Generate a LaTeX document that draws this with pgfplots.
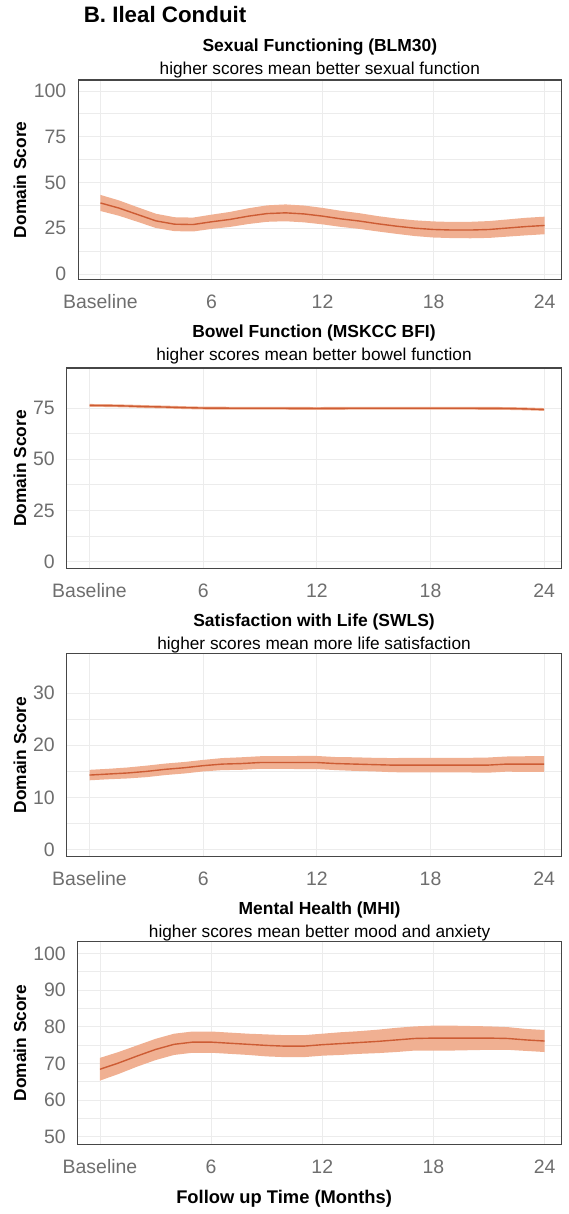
\documentclass[border=0pt]{standalone}
\usepackage{pgfplots}
\pgfplotsset{compat=1.18}
\usepackage{pgfplotstable}
\usepgfplotslibrary{fillbetween}
\usepackage{fontspec}
\setmainfont{Liberation Sans}
\definecolor{lineC}{RGB}{205,92,52}
\definecolor{bandC}{RGB}{240,176,146}
\definecolor{gridC}{RGB}{236,236,236}
\definecolor{tickC}{RGB}{110,110,110}
\definecolor{axC}{RGB}{70,70,70}

\pgfplotstableread{
x m lo hi
0 38.8 34.4 43.2
1 36.0 31.8 40.2
2 32.5 28.5 36.5
3 29.0 25.1 32.9
4 27.2 23.4 31.0
5 27.0 23.2 30.8
6 28.5 24.6 32.4
7 29.8 25.7 33.9
8 31.6 27.3 35.9
9 33.0 28.5 37.5
10 33.4 28.8 38.0
11 32.8 28.2 37.4
12 31.6 27.1 36.1
13 30.1 25.7 34.5
14 28.9 24.6 33.2
15 27.4 23.2 31.6
16 26.1 21.9 30.3
17 25.0 20.7 29.3
18 24.3 19.9 28.7
19 24.0 19.6 28.4
20 24.0 19.5 28.5
21 24.3 19.7 28.9
22 25.1 20.4 29.8
23 25.9 21.1 30.7
24 26.5 21.7 31.3
}\tA

\pgfplotstableread{
x m lo hi
0 76.3 75.6 77.0
1 76.2 75.5 76.9
2 76.0 75.3 76.7
3 75.7 75.0 76.4
4 75.5 74.8 76.2
5 75.2 74.5 75.9
6 75.0 74.3 75.7
8 74.9 74.2 75.6
10 74.9 74.2 75.6
12 74.8 74.1 75.5
14 74.9 74.2 75.6
16 74.9 74.2 75.6
18 74.9 74.2 75.6
20 74.9 74.2 75.6
22 74.8 74.1 75.5
23 74.6 73.9 75.3
24 74.3 73.6 75.0
}\tB

\pgfplotstableread{
x m lo hi
0 14.3 13.3 15.3
1 14.5 13.5 15.5
2 14.7 13.65 15.75
3 15.0 13.9 16.1
4 15.4 14.3 16.5
5 15.7 14.6 16.8
6 16.1 15.0 17.2
7 16.4 15.25 17.55
8 16.5 15.3 17.7
9 16.7 15.5 17.9
10 16.7 15.5 17.9
11 16.7 15.45 17.95
12 16.7 15.45 17.95
13 16.5 15.25 17.75
14 16.4 15.1 17.7
15 16.3 15.0 17.6
16 16.2 14.85 17.55
17 16.2 14.8 17.6
18 16.2 14.8 17.6
19 16.2 14.8 17.6
20 16.2 14.8 17.6
21 16.2 14.75 17.65
22 16.4 14.95 17.85
23 16.4 14.9 17.9
24 16.4 14.9 17.9
}\tC

\pgfplotstableread{
x m lo hi
0 68.4 65.3 71.5
1 70.1 67.1 73.1
2 72.0 69.1 74.9
3 73.8 70.9 76.7
4 75.2 72.3 78.1
5 75.8 72.9 78.7
6 75.8 72.9 78.7
7 75.5 72.6 78.4
8 75.2 72.3 78.1
9 74.9 71.9 77.9
10 74.7 71.7 77.7
11 74.7 71.7 77.7
12 75.1 72.1 78.1
13 75.4 72.3 78.5
14 75.7 72.6 78.8
15 76.0 72.8 79.2
16 76.4 73.1 79.7
17 76.8 73.5 80.1
18 76.9 73.5 80.3
19 76.9 73.5 80.3
20 76.9 73.6 80.2
21 76.9 73.7 80.1
22 76.8 73.7 79.9
23 76.4 73.4 79.4
24 76.1 73.1 79.1
}\tD

\pgfplotsset{
  panel/.style={
    scale only axis,
    anchor=north west,
    axis line style={axC, line width=0.65pt},
    xmin=-1.2, xmax=24.9,
    xtick={0,6,12,18,24},
    xticklabels={Baseline,6,12,18,24},
    minor y tick num=1,
    major tick length=0pt, minor tick length=0pt,
    grid=both,
    major grid style={gridC, line width=0.4pt},
    minor grid style={gridC, line width=0.4pt},
    tick label style={font=\fontsize{9.75}{11}\selectfont, text=tickC},
    xticklabel style={yshift=-4pt},
    yticklabel style={xshift=-2.5pt},
    /pgf/number format/assume math mode=true,
  },
}

\begin{document}
\begin{tikzpicture}
\path (0pt,0pt) rectangle (285pt,607pt);

\node[anchor=base west, font=\bfseries\fontsize{11.2}{13}\selectfont] at (38.5pt,596.7pt) {B. Ileal Conduit};

% Panel 1
\node[anchor=base, font=\bfseries\fontsize{8.75}{10}\selectfont] at (160.4pt,582.5pt) {Sexual Functioning (BLM30)};
\node[anchor=base, font=\fontsize{8.65}{10}\selectfont] at (160.4pt,571pt) {higher scores mean better sexual function};
\node[rotate=90, font=\bfseries\fontsize{8.7}{10}\selectfont] at (10pt,518pt) {Domain Score};
\begin{axis}[panel, at={(39.25pt,568pt)}, width=242.25pt, height=100pt,
  ymin=-3, ymax=106, ytick={0,25,50,75,100}]
\addplot[name path=u1, draw=none, forget plot] table[x=x,y=hi]{\tA};
\addplot[name path=l1, draw=none, forget plot] table[x=x,y=lo]{\tA};
\addplot[fill=bandC, draw=none] fill between[of=u1 and l1];
\addplot[lineC, line width=0.7pt] table[x=x,y=m]{\tA};
\end{axis}

% Panel 2
\node[anchor=base, font=\bfseries\fontsize{8.75}{10}\selectfont] at (157.5pt,439pt) {Bowel Function (MSKCC BFI)};
\node[anchor=base, font=\fontsize{8.65}{10}\selectfont] at (157.5pt,427.5pt) {higher scores mean better bowel function};
\node[rotate=90, font=\bfseries\fontsize{8.7}{10}\selectfont] at (10pt,373.25pt) {Domain Score};
\begin{axis}[panel, at={(33.5pt,423.5pt)}, width=248pt, height=100.5pt,
  ymin=-3.4, ymax=94.5, ytick={0,25,50,75}]
\addplot[name path=u2, draw=none, forget plot] table[x=x,y=hi]{\tB};
\addplot[name path=l2, draw=none, forget plot] table[x=x,y=lo]{\tB};
\addplot[fill=bandC, draw=none] fill between[of=u2 and l2];
\addplot[lineC, line width=0.7pt] table[x=x,y=m]{\tB};
\end{axis}

% Panel 3
\node[anchor=base, font=\bfseries\fontsize{8.75}{10}\selectfont] at (157.5pt,294pt) {Satisfaction with Life (SWLS)};
\node[anchor=base, font=\fontsize{8.65}{10}\selectfont] at (157.5pt,282.5pt) {higher scores mean more life satisfaction};
\node[rotate=90, font=\bfseries\fontsize{8.7}{10}\selectfont] at (10pt,229.5pt) {Domain Score};
\begin{axis}[panel, at={(33.5pt,280.5pt)}, width=248pt, height=102pt,
  ymin=-1.3, ymax=37.6, ytick={0,10,20,30}]
\addplot[name path=u3, draw=none, forget plot] table[x=x,y=hi]{\tC};
\addplot[name path=l3, draw=none, forget plot] table[x=x,y=lo]{\tC};
\addplot[fill=bandC, draw=none] fill between[of=u3 and l3];
\addplot[lineC, line width=0.7pt] table[x=x,y=m]{\tC};
\end{axis}

% Panel 4
\node[anchor=base, font=\bfseries\fontsize{8.75}{10}\selectfont] at (160.3pt,149.3pt) {Mental Health (MHI)};
\node[anchor=base, font=\fontsize{8.65}{10}\selectfont] at (160.3pt,138pt) {higher scores mean better mood and anxiety};
\node[rotate=90, font=\bfseries\fontsize{8.7}{10}\selectfont] at (10pt,85pt) {Domain Score};
\begin{axis}[panel, at={(39pt,136pt)}, width=242.5pt, height=102pt,
  ymin=47.8, ymax=103.3, ytick={50,60,70,80,90,100}]
\addplot[name path=u4, draw=none, forget plot] table[x=x,y=hi]{\tD};
\addplot[name path=l4, draw=none, forget plot] table[x=x,y=lo]{\tD};
\addplot[fill=bandC, draw=none] fill between[of=u4 and l4];
\addplot[lineC, line width=0.7pt] table[x=x,y=m]{\tD};
\end{axis}

\node[anchor=base, font=\bfseries\fontsize{9.2}{11}\selectfont] at (142.5pt,4.5pt) {Follow up Time (Months)};
\end{tikzpicture}
\end{document}
